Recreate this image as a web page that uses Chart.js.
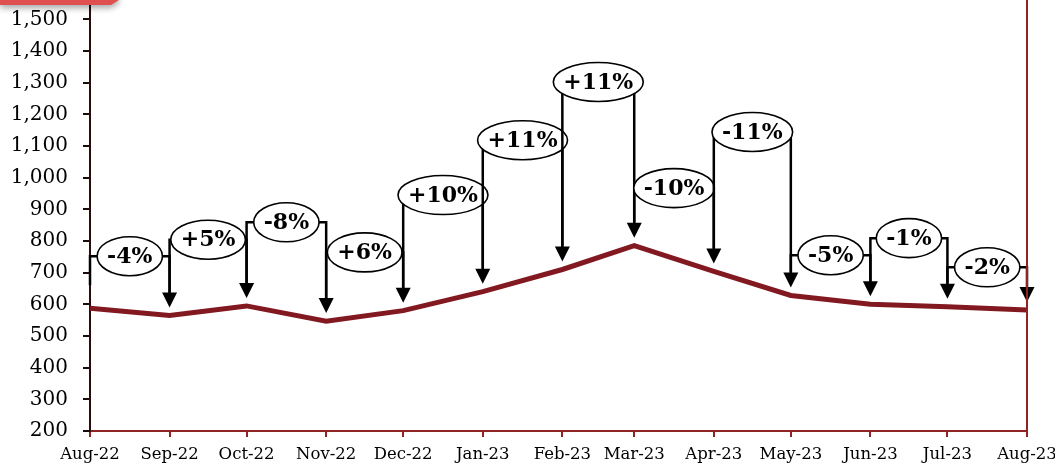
<!DOCTYPE html>
<html>
<head>
<meta charset="utf-8">
<script src="https://cdn.jsdelivr.net/npm/chart.js@4/dist/chart.umd.min.js"></script>
<style>
  html, body { margin: 0; padding: 0; background: #ffffff; }
  #wrap { width: 1055px; height: 468px; }
</style>
</head>
<body>
<div id="wrap"><canvas id="c" width="1055" height="468"></canvas></div>
<script>
// ---- data ----
const monthDates = ['2022-08-01','2022-09-01','2022-10-01','2022-11-01','2022-12-01','2023-01-01',
                    '2023-02-01','2023-03-01','2023-04-01','2023-05-01','2023-06-01','2023-07-01','2023-08-01'];
const tickLabels = ['Aug-22','Sep-22','Oct-22','Nov-22','Dec-22','Jan-23','Feb-23','Mar-23',
                    'Apr-23','May-23','Jun-23','Jul-23','Aug-23'];
const values = [588, 565, 595, 547, 580, 640, 710, 785, 704, 628, 600, 592, 582];
const changeLabels = ['-4%','+5%','-8%','+6%','+10%','+11%','+11%','-10%','-11%','-5%','-1%','-2%'];
// level (in axis units) at which each change bubble sits
const bubbleLevels = [752, 804, 859, 764, 945, 1118, 1302, 967, 1144, 755, 809, 717];
const yTickValues = [200,300,400,500,600,700,800,900,1000,1100,1200,1300,1400,1500];

// day offsets from first month (date axis)
const day0 = Date.parse(monthDates[0]);
const dayOffsets = monthDates.map(d => Math.round((Date.parse(d) - day0) / 86400000));

const LINE_RED = '#821820';
const AXIS_RED = '#8e2424';

const bubblePlugin = {
  id: 'bubbles',
  afterDatasetsDraw(chart) {
    const ctx = chart.ctx;
    const xs = chart.scales.x, ys = chart.scales.y;
    ctx.save();
    ctx.font = 'bold 22px "DejaVu Serif", serif';
    ctx.textAlign = 'center';
    ctx.textBaseline = 'middle';
    for (let i = 0; i < changeLabels.length; i++) {
      const x0 = xs.getPixelForValue(dayOffsets[i]);
      const x1 = xs.getPixelForValue(dayOffsets[i + 1]);
      const yb = ys.getPixelForValue(bubbleLevels[i]);
      const tip0 = ys.getPixelForValue(values[i]) - 8;
      const tip1 = ys.getPixelForValue(values[i + 1]) - 8;
      const headH = 15, headW = 7.5;
      ctx.strokeStyle = '#000';
      ctx.lineWidth = 2.5;
      ctx.lineCap = 'butt';
      ctx.beginPath();
      ctx.moveTo(x0, tip0 - headH);
      ctx.lineTo(x0, yb);
      ctx.lineTo(x1, yb);
      ctx.lineTo(x1, tip1 - headH + 1);
      ctx.stroke();
      // arrow head
      ctx.fillStyle = '#000';
      ctx.beginPath();
      ctx.moveTo(x1 - headW, tip1 - headH);
      ctx.lineTo(x1 + headW, tip1 - headH);
      ctx.lineTo(x1, tip1);
      ctx.closePath();
      ctx.fill();
      // ellipse with label
      const cx = (x0 + x1) / 2;
      const tw = ctx.measureText(changeLabels[i]).width;
      const rx = (tw + 20) / 2, ry = 19.5;
      ctx.beginPath();
      ctx.ellipse(cx, yb, rx, ry, 0, 0, Math.PI * 2);
      ctx.fillStyle = '#fff';
      ctx.fill();
      ctx.lineWidth = 1.6;
      ctx.stroke();
      ctx.fillStyle = '#000';
      ctx.fillText(changeLabels[i], cx, yb + 1);
    }
    ctx.restore();
  },
  afterDraw(chart) {
    const ctx = chart.ctx;
    const area = chart.chartArea;
    ctx.save();
    // right border line
    ctx.strokeStyle = AXIS_RED;
    ctx.lineWidth = 2;
    ctx.beginPath();
    ctx.moveTo(area.right, 0);
    ctx.lineTo(area.right, area.bottom);
    ctx.stroke();
    // red tab at top-left
    ctx.shadowColor = 'rgba(0,0,0,0.35)';
    ctx.shadowBlur = 6;
    ctx.shadowOffsetY = 3;
    ctx.fillStyle = '#e04f4f';
    ctx.beginPath();
    ctx.moveTo(0, -5);
    ctx.lineTo(119, -5);
    ctx.lineTo(119, 0);
    ctx.lineTo(111, 5);
    ctx.lineTo(0, 5);
    ctx.closePath();
    ctx.fill();
    ctx.restore();
  }
};

new Chart(document.getElementById('c'), {
  type: 'line',
  data: {
    datasets: [{
      data: values.map((v, i) => ({ x: dayOffsets[i], y: v })),
      borderColor: LINE_RED,
      borderWidth: 5,
      pointRadius: 0,
      tension: 0,
      fill: false,
      borderJoinStyle: 'miter'
    }]
  },
  options: {
    responsive: false,
    animation: false,
    devicePixelRatio: 1,
    layout: { padding: { left: 0, right: 28, top: 0, bottom: 0 } },
    plugins: { legend: { display: false }, tooltip: { enabled: false }, title: { display: false } },
    scales: {
      x: {
        type: 'linear',
        min: 0,
        max: dayOffsets[dayOffsets.length - 1],
        afterBuildTicks(scale) { scale.ticks = dayOffsets.map(v => ({ value: v })); },
        afterFit(scale) { scale.height = 37; scale.paddingLeft = 0; scale.paddingRight = 0; },
        ticks: {
          autoSkip: false,
          maxRotation: 0,
          padding: 8,
          color: '#000',
          font: { family: '"DejaVu Serif", serif', size: 16.5 },
          callback: (v, i) => tickLabels[i]
        },
        grid: { drawOnChartArea: false, tickLength: 6, color: AXIS_RED, lineWidth: 2 },
        border: { color: AXIS_RED, width: 2 }
      },
      y: {
        min: 200,
        max: 1561,
        afterBuildTicks(scale) { scale.ticks = yTickValues.map(v => ({ value: v })); },
        afterFit(scale) { scale.width = 90; scale.paddingTop = 0; scale.paddingBottom = 0; },
        ticks: {
          padding: 15,
          color: '#000',
          font: { family: '"DejaVu Serif", serif', size: 20 },
          callback: v => v.toLocaleString('en-US')
        },
        grid: { drawOnChartArea: false, tickLength: 7, color: '#1a0a0a', lineWidth: 2 },
        border: { color: '#2a0c0c', width: 2 }
      }
    }
  },
  plugins: [bubblePlugin]
});
</script>
</body>
</html>
